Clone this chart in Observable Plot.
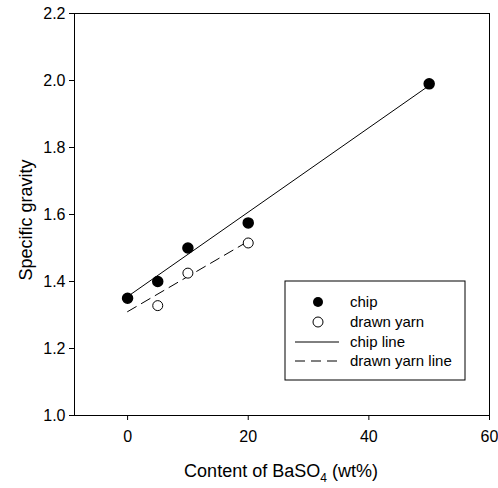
<!DOCTYPE html>
<html>
<head>
<meta charset="utf-8">
<script src="https://cdn.jsdelivr.net/npm/d3@7"></script>
<script src="https://cdn.jsdelivr.net/npm/@observablehq/plot@0.6"></script>
<style>
  body { margin: 0; background: #fff; }
  #chart { position: relative; width: 498px; height: 488px; }
</style>
</head>
<body>
<div id="chart"></div>
<script>
// Data
const chipX = [0, 5, 10, 20, 50];
const chipY = [1.35, 1.40, 1.50, 1.575, 1.99];
const yarnX = [5, 10, 20];
const yarnY = [1.328, 1.425, 1.515];
const chipLineX = [0, 50];
const chipLineY = [1.355, 1.985];
const yarnLineX = [0, 20];
const yarnLineY = [1.31, 1.52];
const xTicks = [0, 20, 40, 60];
const yTicks = [1.0, 1.2, 1.4, 1.6, 1.8, 2.0, 2.2];
const legendLabels = ["chip", "drawn yarn", "chip line", "drawn yarn line"];

const chip = chipX.map((x, i) => ({x, y: chipY[i]}));
const yarn = yarnX.map((x, i) => ({x, y: yarnY[i]}));
const chipLine = chipLineX.map((x, i) => ({x, y: chipLineY[i]}));
const yarnLine = yarnLineX.map((x, i) => ({x, y: yarnLineY[i]}));

const font = "'Liberation Sans', Arial, sans-serif";

const plot = Plot.plot({
  width: 498,
  height: 488,
  marginLeft: 74,
  marginRight: 9,
  marginTop: 13,
  marginBottom: 73,
  style: {fontFamily: font, fontSize: "16px", color: "#000", background: "#fff", overflow: "visible"},
  x: {domain: [-8.8, 60]},
  y: {domain: [1.0, 2.2]},
  marks: [
    Plot.frame({stroke: "#000", strokeWidth: 1}),
    Plot.axisX({ticks: xTicks, tickSize: 5, tickPadding: 10, label: null, fontSize: 16}),
    Plot.axisY({ticks: yTicks, tickSize: 5, tickPadding: 4, tickFormat: d3.format(".1f"), label: null, fontSize: 16}),
    Plot.line(chipLine, {x: "x", y: "y", stroke: "#000", strokeWidth: 1}),
    Plot.line(yarnLine, {x: "x", y: "y", stroke: "#000", strokeWidth: 1, strokeDasharray: "10,6"}),
    Plot.dot(chip, {x: "x", y: "y", r: 5, fill: "#000", stroke: "#000"}),
    Plot.dot(yarn, {x: "x", y: "y", r: 5, fill: "#fff", stroke: "#000", strokeWidth: 1})
  ]
});
document.getElementById("chart").appendChild(plot);

const svg = d3.select(plot);
// Axis titles
svg.append("text")
  .attr("transform", "translate(32,220) rotate(-90)")
  .attr("text-anchor", "middle")
  .style("font-family", font).style("font-size", "18px").attr("fill", "#000")
  .text("Specific gravity");

const xl = svg.append("text")
  .attr("x", 281).attr("y", 477)
  .attr("text-anchor", "middle")
  .style("font-family", font).style("font-size", "18px").attr("fill", "#000");
xl.append("tspan").text("Content of BaSO");
xl.append("tspan").attr("dy", 5).style("font-size", "12px").text("4");
xl.append("tspan").attr("dy", -5).text(" (wt%)");

// Legend
const lg = svg.append("g").attr("transform", "translate(285,281)");
lg.append("rect").attr("width", 180).attr("height", 99).attr("fill", "#fff").attr("stroke", "#000").attr("stroke-width", 1);
const rowY = [21, 41, 61, 80];
lg.append("circle").attr("cx", 33).attr("cy", rowY[0]).attr("r", 5).attr("fill", "#000");
lg.append("circle").attr("cx", 33).attr("cy", rowY[1]).attr("r", 5).attr("fill", "#fff").attr("stroke", "#000");
lg.append("line").attr("x1", 10).attr("x2", 54).attr("y1", rowY[2]).attr("y2", rowY[2]).attr("stroke", "#000");
lg.append("line").attr("x1", 10).attr("x2", 54).attr("y1", rowY[3]).attr("y2", rowY[3]).attr("stroke", "#000").attr("stroke-dasharray", "10,6");
legendLabels.forEach((t, i) => {
  lg.append("text").attr("x", 65).attr("y", rowY[i]).attr("dy", "0.35em")
    .attr("text-anchor", "start")
    .style("font-family", font).style("font-size", "15px").attr("fill", "#000").text(t);
});
</script>
</body>
</html>
